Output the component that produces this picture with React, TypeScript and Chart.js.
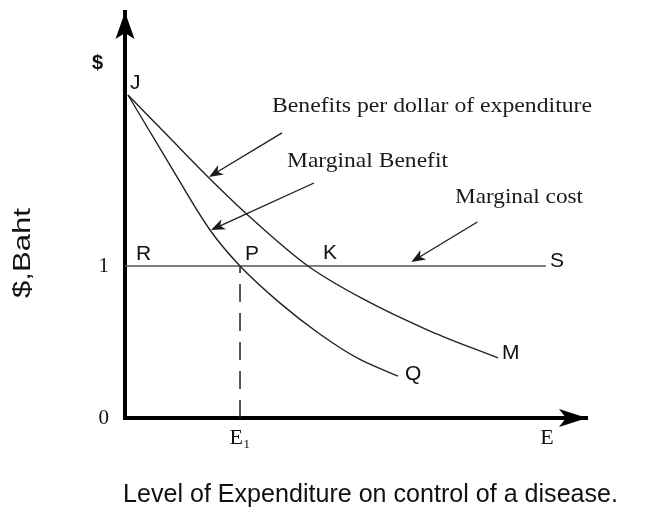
import { useEffect, useRef } from "react";
import { Chart, registerables } from "chart.js";

Chart.register(...registerables);

// Benefits per dollar of expenditure curve (J -> M)
const bpdX = [0.026, 0.374, 0.722, 1.087, 1.591, 2.07, 2.652, 3.243];
const bpdY = [2.125, 1.855, 1.586, 1.322, 1.0, 0.783, 0.572, 0.395];
// Marginal benefit curve (J -> Q)
const mbX = [0.026, 0.365, 0.739, 1.0, 1.343, 1.687, 2.03, 2.374];
const mbY = [2.125, 1.697, 1.237, 1.0, 0.759, 0.556, 0.39, 0.276];
// Marginal cost line (R -> S)
const mcX = [0.0, 3.66];
const mcY = [1, 1];
// Equilibrium expenditure E1 (dashed drop line)
const dropX = [1.0, 1.0];
const dropY = [0, 1];

const yTicks = [0, 1];
const yTickLabels = ["0", "1"];
const xTicks = [1.0, 3.67];
const xTickLabels = ["E\u2081", "E"];
const xMax = 4.017;
const yMax = 2.671;
const mcArrowX = 2.49;

const SERIF = "'Liberation Serif', 'Times New Roman', serif";
const SANS = "'Liberation Sans', Arial, sans-serif";

const pts = (xs: number[], ys: number[]) => xs.map((x, i) => ({ x, y: ys[i] }));

function stretchText(ctx: CanvasRenderingContext2D, text: string, x: number, y: number, width: number) {
  const w = ctx.measureText(text).width;
  const sx = width / w;
  ctx.save();
  ctx.translate(x, y);
  ctx.scale(sx, 1);
  ctx.fillText(text, 0, 0);
  ctx.restore();
}

function pointer(ctx: CanvasRenderingContext2D, x1: number, y1: number, x2: number, y2: number) {
  ctx.save();
  ctx.strokeStyle = "#1a1a1a";
  ctx.fillStyle = "#1a1a1a";
  ctx.lineWidth = 1.3;
  const ang = Math.atan2(y2 - y1, x2 - x1);
  const len = 14;
  const hw = 5.5;
  const bx = x2 - len * Math.cos(ang);
  const by = y2 - len * Math.sin(ang);
  ctx.beginPath();
  ctx.moveTo(x1, y1);
  ctx.lineTo(bx + 4 * Math.cos(ang), by + 4 * Math.sin(ang));
  ctx.stroke();
  const nx = -Math.sin(ang);
  const ny = Math.cos(ang);
  ctx.beginPath();
  ctx.moveTo(x2, y2);
  ctx.lineTo(bx + nx * hw, by + ny * hw);
  ctx.lineTo(bx + 4 * Math.cos(ang), by + 4 * Math.sin(ang));
  ctx.lineTo(bx - nx * hw, by - ny * hw);
  ctx.closePath();
  ctx.fill();
  ctx.restore();
}

const annotations = {
  id: "annotations",
  afterDraw(chart: any) {
    const ctx: CanvasRenderingContext2D = chart.ctx;
    const xs = chart.scales.x;
    const ys = chart.scales.y;
    const X = (v: number) => xs.getPixelForValue(v);
    const Y = (v: number) => ys.getPixelForValue(v);
    const ca = chart.chartArea;

    ctx.save();
    ctx.fillStyle = "#000";
    // y axis arrowhead
    const ax = X(0);
    ctx.beginPath();
    ctx.moveTo(ax, ca.top);
    ctx.lineTo(ax - 9.5, ca.top + 27);
    ctx.lineTo(ax, ca.top + 21);
    ctx.lineTo(ax + 9.5, ca.top + 27);
    ctx.closePath();
    ctx.fill();
    // x axis arrowhead
    const ay = Y(0);
    ctx.beginPath();
    ctx.moveTo(ca.right, ay);
    ctx.lineTo(ca.right - 28, ay - 9);
    ctx.lineTo(ca.right - 21, ay);
    ctx.lineTo(ca.right - 28, ay + 9);
    ctx.closePath();
    ctx.fill();

    // pointer arrows
    const bx = X(bpdX[2]);
    const by = Y(bpdY[2]);
    pointer(ctx, bx + 74, by - 44, bx + 1, by);
    const mx = X(mbX[2]);
    const my = Y(mbY[2]);
    pointer(ctx, mx + 104, my - 47, mx + 1, my);
    const cx = X(mcArrowX);
    const cy = Y(1) - 4;
    pointer(ctx, cx + 66, cy - 40, cx, cy);

    // point labels
    ctx.fillStyle = "#111";
    ctx.textAlign = "left";
    ctx.textBaseline = "alphabetic";
    ctx.font = `21px ${SANS}`;
    ctx.fillText("J", X(bpdX[0]) + 2, Y(bpdY[0]) - 6);
    ctx.fillText("R", X(mcX[0]) + 11, Y(mcY[0]) - 6);
    ctx.fillText("P", X(mbX[3]) + 5, Y(mbY[3]) - 6);
    ctx.fillText("K", X(bpdX[4]) + 15, Y(bpdY[4]) - 7);
    ctx.fillText("S", X(mcX[1]) + 4, Y(mcY[1]) + 1);
    ctx.fillText("M", X(bpdX[7]) + 4, Y(bpdY[7]) + 1);
    ctx.fillText("Q", X(mbX[7]) + 7, Y(mbY[7]) + 4);
    ctx.font = `bold 20px ${SANS}`;
    ctx.fillText("$", X(0) - 33, Y(yMax) + 57);

    // curve captions
    ctx.fillStyle = "#1a1a1a";
    ctx.font = `22px ${SERIF}`;
    stretchText(ctx, "Benefits per dollar of expenditure", 272, 112, 320);
    stretchText(ctx, "Marginal Benefit", 287, 167, 161);
    stretchText(ctx, "Marginal cost", 455, 203, 128);

    // axis titles
    ctx.fillStyle = "#111";
    ctx.font = `25px ${SANS}`;
    stretchText(ctx, "Level of Expenditure on control of a disease.", 123, 502, 495);
    ctx.save();
    ctx.translate(30, 298);
    ctx.rotate(-Math.PI / 2);
    ctx.font = `23px ${SANS}`;
    stretchText(ctx, "$,Baht", 0, 0, 90);
    ctx.restore();

    ctx.restore();
  },
};

export default function App() {
  const ref = useRef<HTMLCanvasElement>(null);
  useEffect(() => {
    const chart = new Chart(ref.current!, {
      type: "line",
      data: {
        datasets: [
          {
            label: "Benefits per dollar of expenditure",
            data: pts(bpdX, bpdY),
            borderColor: "#222",
            borderWidth: 1.4,
            pointRadius: 0,
            cubicInterpolationMode: "monotone",
            fill: false,
          },
          {
            label: "Marginal Benefit",
            data: pts(mbX, mbY),
            borderColor: "#222",
            borderWidth: 1.4,
            pointRadius: 0,
            cubicInterpolationMode: "monotone",
            fill: false,
          },
          {
            label: "Marginal cost",
            data: pts(mcX, mcY),
            borderColor: "#555",
            borderWidth: 1.3,
            pointRadius: 0,
            fill: false,
          },
          {
            label: "E1",
            data: pts(dropX, dropY),
            borderColor: "#222",
            borderWidth: 1.5,
            borderDash: [18, 11],
            pointRadius: 0,
            fill: false,
          },
        ],
      },
      options: {
        responsive: false,
        animation: false,
        events: [],
        layout: { padding: { top: 12, right: 59, left: 0, bottom: 0 } },
        plugins: { legend: { display: false }, tooltip: { enabled: false }, title: { display: false } },
        scales: {
          x: {
            type: "linear",
            min: 0,
            max: xMax,
            grid: { display: false, drawTicks: false },
            border: { display: true, width: 4, color: "#000" },
            afterBuildTicks: (scale: any) => {
              scale.ticks = xTicks.map((v) => ({ value: v }));
            },
            afterFit: (scale: any) => {
              scale.height = 104;
              scale.paddingLeft = 0;
              scale.paddingRight = 0;
            },
            ticks: {
              autoSkip: false,
              maxRotation: 0,
              padding: 7,
              color: "#111",
              font: { family: SERIF, size: 22 },
              callback: (_v: any, i: number) => xTickLabels[i],
            },
          },
          y: {
            type: "linear",
            min: 0,
            max: yMax,
            grid: { display: false, drawTicks: false },
            border: { display: true, width: 4, color: "#000" },
            afterBuildTicks: (scale: any) => {
              scale.ticks = yTicks.map((v) => ({ value: v }));
            },
            afterFit: (scale: any) => {
              scale.width = 125;
              scale.paddingTop = 0;
              scale.paddingBottom = 0;
            },
            ticks: {
              autoSkip: false,
              padding: 16,
              color: "#111",
              font: { family: SERIF, size: 21 },
              callback: (_v: any, i: number) => yTickLabels[i],
            },
          },
        },
      },
      plugins: [annotations],
    } as any);
    return () => chart.destroy();
  }, []);
  return (
    <div style={{ position: "absolute", left: 0, top: 0, width: 646, height: 522, background: "#fff" }}>
      <canvas ref={ref} width={646} height={522} style={{ display: "block", width: 646, height: 522 }} />
    </div>
  );
}
